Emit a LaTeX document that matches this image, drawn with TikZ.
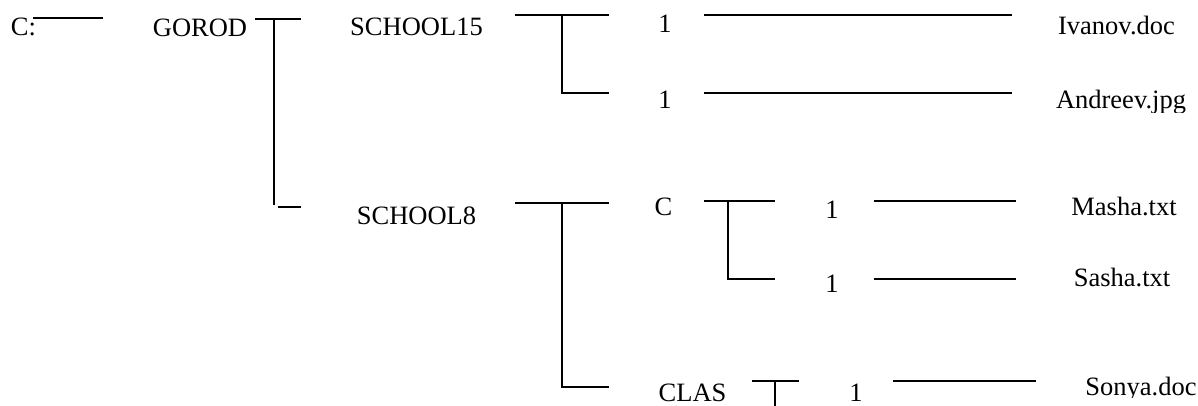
\documentclass[tikz,border=0pt]{standalone}
\usepackage{fontspec}
\setmainfont{Liberation Serif}
\begin{document}
\begin{tikzpicture}[x=1pt,y=-1pt,
  lbl/.style={anchor=base,inner sep=0pt,font=\fontsize{26.5}{30}\selectfont},
  ln/.style={line width=2pt,black}]
\useasboundingbox (0,0) rectangle (1198,406);
\clip (0,0) rectangle (1198,406);
% texts
\node[lbl] (croot) at (23.5,36) {C:};
\node[lbl] (gorod) at (200,37) {GOROD};
\node[lbl] (s15) at (416.5,36) {SCHOOL15};
\node[lbl] (n1a) at (665,32.5) {1};
\node[lbl] (n1b) at (665,108.5) {1};
\node[lbl] (ivanov) at (1116.5,35) {Ivanov.doc};
\begin{scope}
  \clip (1000,60) rectangle (1198,113);
  \node[lbl] (andreev) at (1121,109) {Andreev.jpg};
\end{scope}
\node[lbl] (s8) at (416.5,224) {SCHOOL8};
\node[lbl] (cdir) at (663.5,215) {C};
\node[lbl] (n1c) at (832,218) {1};
\node[lbl] (n1d) at (832,292.5) {1};
\node[lbl] (masha) at (1124,215) {Masha.txt};
\node[lbl] (sasha) at (1122,286) {Sasha.txt};
\node[lbl,text depth=0pt] (clas) at (692.5,401) {CLAS};
\node[lbl,text depth=0pt] (n1e) at (856,401) {1};
\begin{scope}
  \clip (1000,340) rectangle (1198,397);
  \node[lbl] (sonya) at (1141,395) {Sonya.doc};
\end{scope}
% lines
\draw[ln] (33,18) -- (103,18);
\draw[ln] (255,19.5) -- (301,19.5);
\draw[ln] (273.5,19.5) -- (273.5,205);
\draw[ln] (278,206.5) -- (301,206.5);
\draw[ln] (515,15) -- (609,15);
\draw[ln] (562,15) -- (562,93.3) -- (609,93.3);
\draw[ln] (704,15) -- (1012,15);
\draw[ln] (704,93.3) -- (1012,93.3);
\draw[ln] (515,202.7) -- (609,202.7);
\draw[ln] (562,202.7) -- (562,387) -- (609,387);
\draw[ln] (704,200.7) -- (775,200.7);
\draw[ln] (728,200.7) -- (728,278.7) -- (775,278.7);
\draw[ln] (874,200.7) -- (1016,200.7);
\draw[ln] (874,278.7) -- (1016,278.7);
\draw[ln] (752,380.7) -- (799,380.7);
\draw[ln] (775,380.7) -- (775,406);
\draw[ln] (893,380.7) -- (1036,380.7);
\end{tikzpicture}
\end{document}
